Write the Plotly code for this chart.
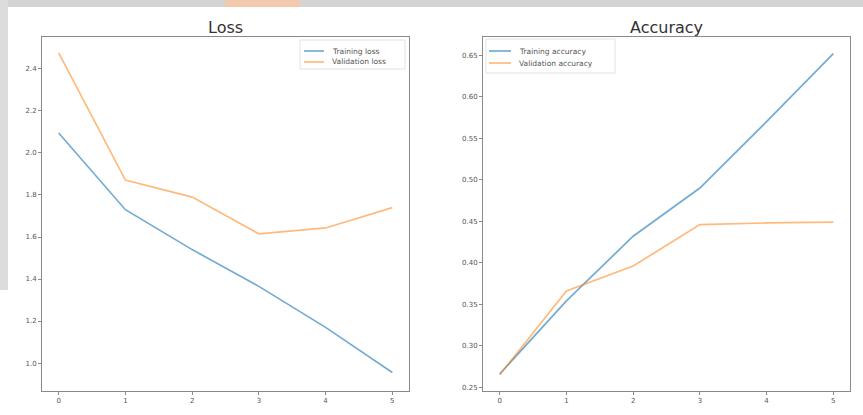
import plotly.graph_objects as go

epochs = [0, 1, 2, 3, 4, 5]
train_loss = [2.095, 1.73, 1.54, 1.365, 1.17, 0.955]
val_loss = [2.476, 1.871, 1.79, 1.615, 1.643, 1.74]
train_acc = [0.266, 0.354, 0.432, 0.490, 0.570, 0.652]
val_acc = [0.265, 0.366, 0.396, 0.446, 0.448, 0.449]

loss_ticks = [1.0, 1.2, 1.4, 1.6, 1.8, 2.0, 2.2, 2.4]
acc_ticks = [0.25, 0.30, 0.35, 0.40, 0.45, 0.50, 0.55, 0.60, 0.65]

W, H = 863, 415
BLUE = "rgba(31,119,180,0.62)"
ORANGE = "rgba(255,127,14,0.55)"
FONT = "DejaVu Sans"

series = [
    ("Training loss", train_loss, BLUE, "x", "y"),
    ("Validation loss", val_loss, ORANGE, "x", "y"),
    ("Training accuracy", train_acc, BLUE, "x2", "y2"),
    ("Validation accuracy", val_acc, ORANGE, "x2", "y2"),
]

fig = go.Figure()
for name, vals, col, xa, ya in series:
    fig.add_trace(go.Scatter(x=epochs, y=vals, mode="lines", name=name,
                             line=dict(color=col, width=1.7), xaxis=xa, yaxis=ya,
                             showlegend=False))


def px(x):
    return x / W


def py(y):
    return 1 - y / H


axis_common = dict(showgrid=False, zeroline=False, showline=True, linecolor="#8a8a8a",
                   linewidth=1, mirror=True, ticks="outside", ticklen=3, tickcolor="#8a8a8a",
                   tickfont=dict(family=FONT, size=7, color="#555"))

lo_d = [px(42), px(409)]
ro_d = [px(483), px(850)]
y_d = [py(391), py(37)]

shapes = [
    dict(type="rect", xref="paper", yref="paper", x0=0, x1=1, y0=py(7), y1=1,
         fillcolor="#d4d4d4", line=dict(width=0), layer="below"),
    dict(type="rect", xref="paper", yref="paper", x0=px(225), x1=px(300), y0=py(7), y1=1,
         fillcolor="#f3c9ad", line=dict(width=0), layer="below"),
    dict(type="rect", xref="paper", yref="paper", x0=0, x1=px(8), y0=py(290), y1=1,
         fillcolor="#dcdcdc", line=dict(width=0), layer="below"),
]
annotations = [
    dict(text="Loss", x=(lo_d[0] + lo_d[1]) / 2, y=py(27), xref="paper", yref="paper",
         showarrow=False, xanchor="center", yanchor="middle",
         font=dict(family=FONT, size=16, color="#333")),
    dict(text="Accuracy", x=(ro_d[0] + ro_d[1]) / 2, y=py(27), xref="paper", yref="paper",
         showarrow=False, xanchor="center", yanchor="middle",
         font=dict(family=FONT, size=16, color="#333")),
]

# compact matplotlib-style legends (box, line sample, label)
legends = [
    dict(box=(300, 40, 405, 69), line_x=(304, 324), text_x=330, rows=(51, 62),
         items=[series[0], series[1]]),
    dict(box=(486, 39, 615, 73), line_x=(489, 511), text_x=517, rows=(51, 63),
         items=[series[2], series[3]]),
]
for lg in legends:
    bx0, by0, bx1, by1 = lg["box"]
    shapes.append(dict(type="rect", xref="paper", yref="paper", x0=px(bx0), x1=px(bx1),
                       y0=py(by1), y1=py(by0), fillcolor="rgba(255,255,255,0.85)",
                       line=dict(color="#e2e2e2", width=1)))
    for (name, _, col, _, _), ry in zip(lg["items"], lg["rows"]):
        shapes.append(dict(type="line", xref="paper", yref="paper",
                           x0=px(lg["line_x"][0]), x1=px(lg["line_x"][1]),
                           y0=py(ry), y1=py(ry), line=dict(color=col, width=1.7)))
        annotations.append(dict(text=name, x=px(lg["text_x"]), y=py(ry), xref="paper",
                                yref="paper", showarrow=False, xanchor="left",
                                yanchor="middle",
                                font=dict(family=FONT, size=7.5, color="#555")))

fig.update_layout(
    width=W, height=H,
    margin=dict(l=0, r=0, t=0, b=0),
    paper_bgcolor="white", plot_bgcolor="white",
    xaxis=dict(domain=lo_d, range=[-0.25, 5.25], tickvals=epochs, anchor="y", **axis_common),
    yaxis=dict(domain=y_d, range=[0.867, 2.552], tickvals=loss_ticks,
               ticktext=[f"{v:.1f}" for v in loss_ticks], anchor="x", **axis_common),
    xaxis2=dict(domain=ro_d, range=[-0.25, 5.25], tickvals=epochs, anchor="y2", **axis_common),
    yaxis2=dict(domain=y_d, range=[0.2455, 0.672], tickvals=acc_ticks,
                ticktext=[f"{v:.2f}" for v in acc_ticks], anchor="x2", **axis_common),
    showlegend=False,
    hovermode=False,
    annotations=annotations,
    shapes=shapes,
)

fig.write_html("out.html", config={"displayModeBar": False},
               post_script="document.body.style.margin='0';")
